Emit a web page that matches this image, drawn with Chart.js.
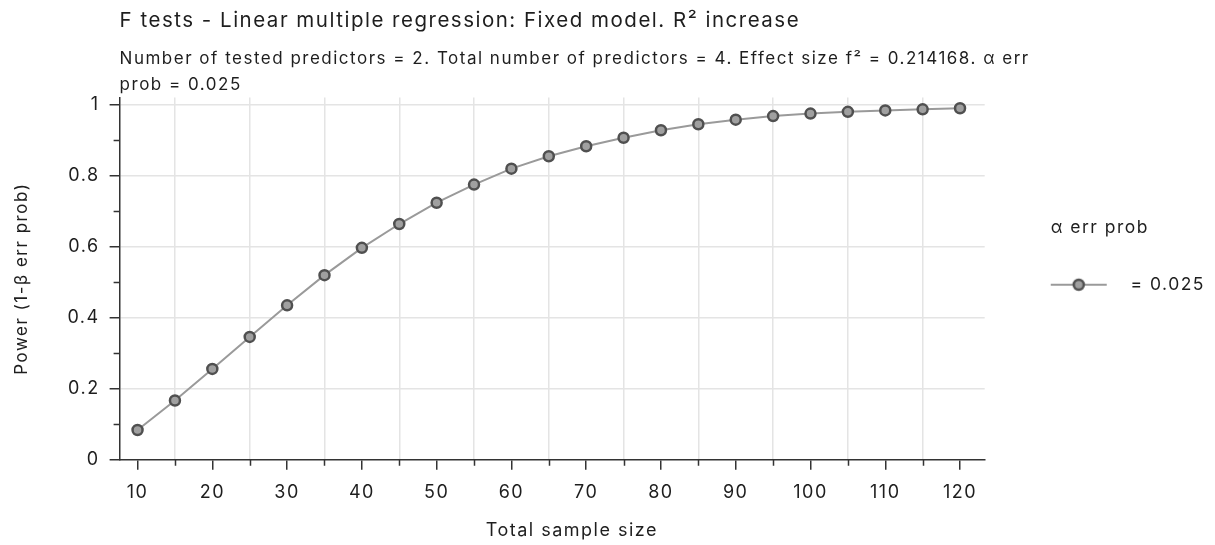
<!DOCTYPE html>
<html>
<head>
<meta charset="utf-8">
<script src="https://cdn.jsdelivr.net/npm/chart.js@4.4.0/dist/chart.umd.min.js"></script>
<style>
  html, body { margin: 0; padding: 0; background: #fff; }
  #wrap { width: 1215px; height: 545px; }
</style>
</head>
<body>
<div id="wrap"><canvas id="myChart"></canvas></div>
<script>
// data
var sampleSizes = [10, 15, 20, 25, 30, 35, 40, 45, 50, 55, 60, 65, 70, 75, 80, 85, 90, 95, 100, 105, 110, 115, 120];
var power = [0.084, 0.167, 0.256, 0.346, 0.435, 0.520, 0.597, 0.664, 0.724, 0.775, 0.820, 0.855, 0.883, 0.907, 0.928, 0.945, 0.958, 0.968, 0.975, 0.980, 0.984, 0.987, 0.990];
var seriesLabel = "= 0.025";
var legendTitle = "\u03b1 err prob";
var chartTitle = "F tests - Linear multiple regression: Fixed model. R\u00b2 increase";
var chartSubtitle = [
  "Number of tested predictors = 2. Total number of predictors = 4. Effect size f\u00b2 = 0.214168. \u03b1 err",
  "prob = 0.025"
];
// leading spaces nudge the axis title a little to the right, as in the original
var xTitle = "\u00a0\u00a0\u00a0\u00a0\u00a0\u00a0Total sample size";
var yTitle = "Power (1-\u03b2 err prob)";

var FONT = "Inter, 'Liberation Sans', Arial, sans-serif";
var textColor = "#1e1e1e";
var axisColor = "#333";
var gridColor = "#e4e4e4";
var lineColor = "#9a9a9a";
var markerEdge = "#505050";
var markerFill = "#a0a0a0";
var minorTickLength = 6;

// legend symbol: short line with a marker in the middle (blank space on the left)
function makeLegendSymbol() {
  var c = document.createElement("canvas");
  c.width = 127;
  c.height = 16;
  var ctx = c.getContext("2d");
  ctx.strokeStyle = lineColor;
  ctx.lineWidth = 2;
  ctx.beginPath();
  ctx.moveTo(56, 8);
  ctx.lineTo(112, 8);
  ctx.stroke();
  ctx.beginPath();
  ctx.arc(84, 8, 5, 0, Math.PI * 2);
  ctx.fillStyle = markerFill;
  ctx.fill();
  ctx.lineWidth = 2.5;
  ctx.strokeStyle = markerEdge;
  ctx.stroke();
  return c;
}
var legendSymbol = makeLegendSymbol();

// the reference text is set rather wide, so loosen the tracking a bit
var spacingPlugin = {
  id: "letterSpacing",
  beforeLayout: function(chart) {
    chart.ctx.letterSpacing = "1.5px";
  },
  beforeDraw: function(chart) {
    chart.ctx.letterSpacing = "1.5px";
  }
};

// subtitle runs past the plot's right edge in the original, don't squeeze it
var subtitleWidthPlugin = {
  id: "subtitleWidth",
  afterLayout: function(chart) {
    chart.boxes.forEach(function(b) {
      if (b.options && b.options.text && b.options.text[1] === chartSubtitle[1]) {
        b.right = chart.width;
        b.width = b.right - b.left;
      }
    });
  }
};

// shorter ticks for the unlabelled steps
var minorTickPlugin = {
  id: "minorTicks",
  afterDraw: function(chart) {
    var c = chart.ctx;
    var xs = chart.scales.x;
    var ys = chart.scales.y;
    c.save();
    c.strokeStyle = axisColor;
    c.lineWidth = 1.5;
    c.beginPath();
    xs.ticks.forEach(function(t) {
      if (Math.round(t.value) % 10 !== 5) return;
      var px = Math.round(xs.getPixelForValue(t.value)) + 0.5;
      c.moveTo(px, xs.top);
      c.lineTo(px, xs.top + minorTickLength);
    });
    ys.ticks.forEach(function(t) {
      if (Math.round(t.value * 10) % 2 !== 1) return;
      var py = Math.round(ys.getPixelForValue(t.value)) + 0.5;
      c.moveTo(ys.right, py);
      c.lineTo(ys.right - minorTickLength, py);
    });
    c.stroke();
    c.restore();
  }
};

var points = [];
for (var i = 0; i < sampleSizes.length; i++) {
  points.push({ x: sampleSizes[i], y: power[i] });
}

var ctx = document.getElementById("myChart").getContext("2d");
var myChart = new Chart(ctx, {
  type: "line",
  data: {
    datasets: [
      {
        label: seriesLabel,
        data: points,
        borderColor: lineColor,
        borderWidth: 2,
        tension: 0,
        fill: false,
        pointRadius: 5,
        pointBorderWidth: 2.5,
        pointBorderColor: markerEdge,
        pointBackgroundColor: markerFill
      }
    ]
  },
  plugins: [spacingPlugin, subtitleWidthPlugin, minorTickPlugin],
  options: {
    responsive: true,
    maintainAspectRatio: false,
    animation: false,
    layout: { padding: { left: 12, right: 0, top: 4, bottom: 0 } },
    plugins: {
      tooltip: { enabled: false },
      title: {
        display: true,
        text: chartTitle,
        align: "start",
        fullSize: false,
        color: textColor,
        font: { family: FONT, size: 20.5, weight: "normal" },
        padding: { top: 5, bottom: 12 }
      },
      subtitle: {
        display: true,
        text: chartSubtitle,
        align: "start",
        fullSize: false,
        color: textColor,
        font: { family: FONT, size: 17, weight: "normal", lineHeight: 1.53 },
        padding: { top: 0, bottom: 0 }
      },
      legend: {
        position: "right",
        align: "start",
        maxWidth: 232,
        title: {
          display: true,
          text: legendTitle,
          position: "center",
          color: textColor,
          font: { family: FONT, size: 17.5 },
          padding: { top: 215, bottom: 26 }
        },
        labels: {
          usePointStyle: true,
          pointStyleWidth: 127,
          padding: 10,
          color: textColor,
          font: { family: FONT, size: 17.5 },
          generateLabels: function(chart) {
            return [
              {
                text: seriesLabel,
                pointStyle: legendSymbol,
                fillStyle: markerFill,
                strokeStyle: markerEdge,
                lineWidth: 0,
                fontColor: textColor,
                datasetIndex: 0,
                hidden: false
              }
            ];
          }
        }
      }
    },
    scales: {
      x: {
        type: "linear",
        min: 7.6,
        max: 123.3,
        border: { color: axisColor, width: 1.5 },
        grid: {
          // vertical grid lines sit on the odd fives (15, 25, ...)
          color: function(c) {
            var v = Math.round(c.tick.value);
            return v % 10 === 5 ? gridColor : "rgba(0,0,0,0)";
          },
          lineWidth: 1.5,
          tickColor: function(c) {
            var v = Math.round(c.tick.value);
            return v % 10 === 0 ? axisColor : "rgba(0,0,0,0)";
          },
          tickLength: 10,
          tickWidth: 1.5
        },
        ticks: {
          stepSize: 5,
          includeBounds: false,
          autoSkip: false,
          maxRotation: 0,
          padding: 12,
          color: textColor,
          font: { family: FONT, size: 18 },
          callback: function(v) {
            var n = Math.round(v);
            return n % 10 === 0 ? String(n) : "";
          }
        },
        title: {
          display: true,
          text: xTitle,
          color: textColor,
          font: { family: FONT, size: 18 },
          padding: { top: 4, bottom: 4 }
        }
      },
      y: {
        min: 0,
        max: 1.02,
        border: { color: axisColor, width: 1.5 },
        grid: {
          color: function(c) {
            var v = Math.round(c.tick.value * 10);
            return v % 2 === 0 && v > 0 ? gridColor : "rgba(0,0,0,0)";
          },
          lineWidth: 1.5,
          tickColor: function(c) {
            var v = Math.round(c.tick.value * 10);
            return v % 2 === 0 ? axisColor : "rgba(0,0,0,0)";
          },
          tickLength: 10,
          tickWidth: 1.5
        },
        ticks: {
          stepSize: 0.1,
          includeBounds: false,
          autoSkip: false,
          padding: 10,
          color: textColor,
          font: { family: FONT, size: 18 },
          callback: function(v) {
            var n = Math.round(v * 10);
            if (n % 2 !== 0) return "";
            return n === 0 ? "0" : n === 10 ? "1" : (n / 10).toFixed(1);
          }
        },
        title: {
          display: true,
          text: yTitle,
          color: textColor,
          font: { family: FONT, size: 17 },
          padding: { top: 0, bottom: 25 }
        }
      }
    }
  }
});
</script>
</body>
</html>
